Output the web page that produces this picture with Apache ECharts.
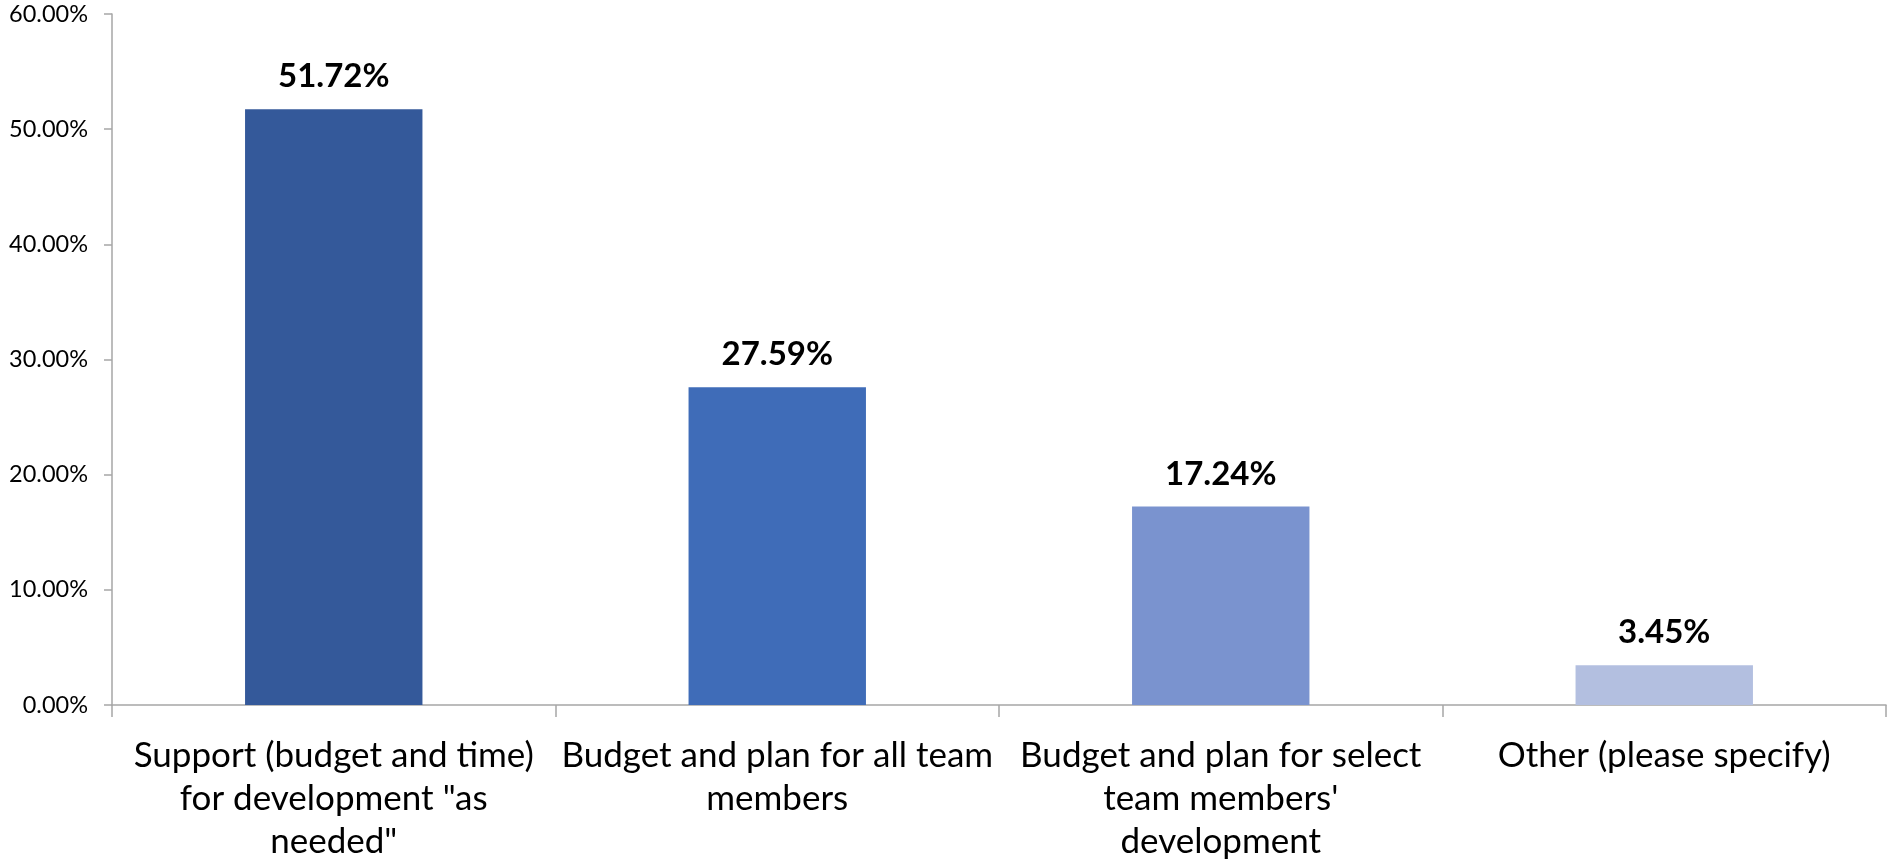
<!DOCTYPE html>
<html>
<head>
<meta charset="utf-8">
<script src="https://cdn.jsdelivr.net/npm/echarts@6/dist/echarts.min.js"></script>
<style>
  html, body { margin: 0; padding: 0; background: #ffffff; }
  #chart { width: 1888px; height: 865px; }
</style>
</head>
<body>
<div id="chart"></div>
<script>
// Survey responses: how development is supported
const categories = [
  'Support (budget and time)\nfor development "as\nneeded"',
  'Budget and plan for all team\nmembers',
  'Budget and plan for select\nteam members\'\ndevelopment',
  'Other (please specify)'
];
const percentages = [51.72, 27.59, 17.24, 3.45];
const barColors = ['#34599A', '#3F6CB8', '#7A93CF', '#B3BFE0'];
const yTicks = { min: 0, max: 60, interval: 10 };

const FONT = 'Lato, "Open Sans", sans-serif';
const chart = echarts.init(document.getElementById('chart'));

chart.setOption({
  animation: false,
  backgroundColor: '#ffffff',
  grid: { left: 112, right: 2, top: 14, bottom: 160, containLabel: false },
  xAxis: {
    type: 'category',
    data: categories,
    axisLine: { lineStyle: { color: '#A6A6A6', width: 1.5 } },
    axisTick: { show: true, length: 12, lineStyle: { color: '#A6A6A6', width: 1.5 } },
    axisLabel: {
      interval: 0,
      color: '#000000',
      fontFamily: FONT,
      fontSize: 35,
      lineHeight: 43,
      margin: 29,
      align: 'center'
    }
  },
  yAxis: {
    type: 'value',
    min: yTicks.min,
    max: yTicks.max,
    interval: yTicks.interval,
    splitLine: { show: false },
    axisLine: { show: true, lineStyle: { color: '#A6A6A6', width: 1.5 } },
    axisTick: { show: true, length: 8, lineStyle: { color: '#A6A6A6', width: 1.5 } },
    axisLabel: {
      color: '#000000',
      fontFamily: FONT,
      fontSize: 23.5,
      margin: 24,
      formatter: v => v.toFixed(2) + '%'
    }
  },
  series: [{
    type: 'bar',
    barWidth: '40%',
    data: percentages.map((v, i) => ({ value: v, itemStyle: { color: barColors[i] } })),
    label: {
      show: true,
      position: 'top',
      distance: 16,
      color: '#000000',
      fontFamily: FONT,
      fontWeight: 'bold',
      fontSize: 33,
      formatter: p => p.value.toFixed(2) + '%'
    }
  }]
});
</script>
</body>
</html>
